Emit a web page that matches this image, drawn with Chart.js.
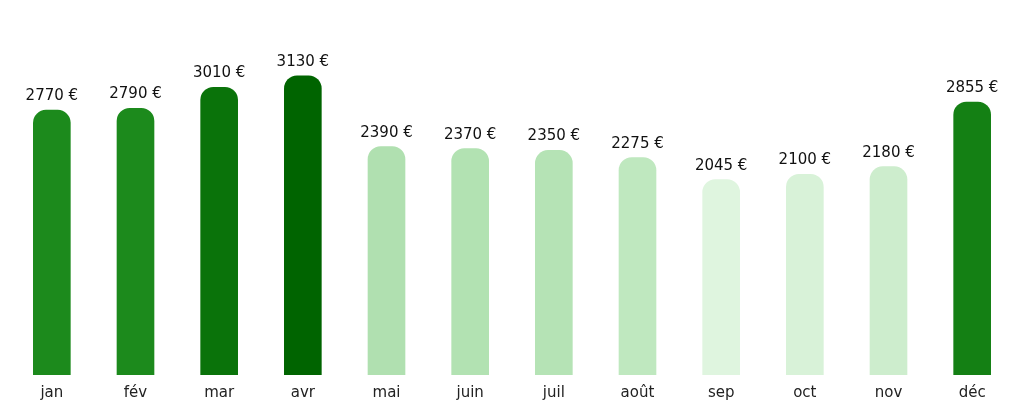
<!DOCTYPE html>
<html><head><meta charset="utf-8">
<script src="https://cdn.jsdelivr.net/npm/chart.js@4/dist/chart.umd.min.js"></script>
<style>html,body{margin:0;padding:0;background:#fff}#w{width:1024px;height:404px}</style>
</head><body><div id="w"><canvas id="c"></canvas></div>
<script>
const months = ['jan','fév','mar','avr','mai','juin','juil','août','sep','oct','nov','déc'];
const revenue = [2770,2790,3010,3130,2390,2370,2350,2275,2045,2100,2180,2855];
const barColors = ['#1c8a1c','#1c8a1c','#0a730a','#006400','#b0e0b0','#b2e2b2','#b5e3b5','#bfe8bf','#dff5df','#d8f2d8','#cdedcd','#148014'];
const labelPlugin = {
  id:'vals',
  afterDatasetsDraw(chart){
    const ctx=chart.ctx, meta=chart.getDatasetMeta(0);
    ctx.save();ctx.font='15px "DejaVu Sans"';ctx.fillStyle='#111';ctx.textAlign='center';ctx.textBaseline='bottom';
    meta.data.forEach((b,i)=>ctx.fillText(revenue[i]+' €',b.x,b.y-6));
    ctx.restore();
  }
};
new Chart(document.getElementById('c'),{
  type:'bar',
  data:{labels:months,datasets:[{data:revenue,backgroundColor:barColors,borderRadius:{topLeft:13,topRight:13,bottomLeft:0,bottomRight:0},borderSkipped:'bottom',categoryPercentage:0.9,barPercentage:0.5}]},
  options:{responsive:true,maintainAspectRatio:false,animation:false,
    layout:{padding:{top:40,left:10,right:10,bottom:1}},
    plugins:{legend:{display:false},tooltip:{enabled:false}},
    scales:{
      y:{display:false,min:0,max:3500},
      x:{grid:{display:false},border:{display:false},ticks:{color:'#222',font:{family:'DejaVu Sans',size:15},padding:1}}
    }},
  plugins:[labelPlugin]
});
</script></body></html>
